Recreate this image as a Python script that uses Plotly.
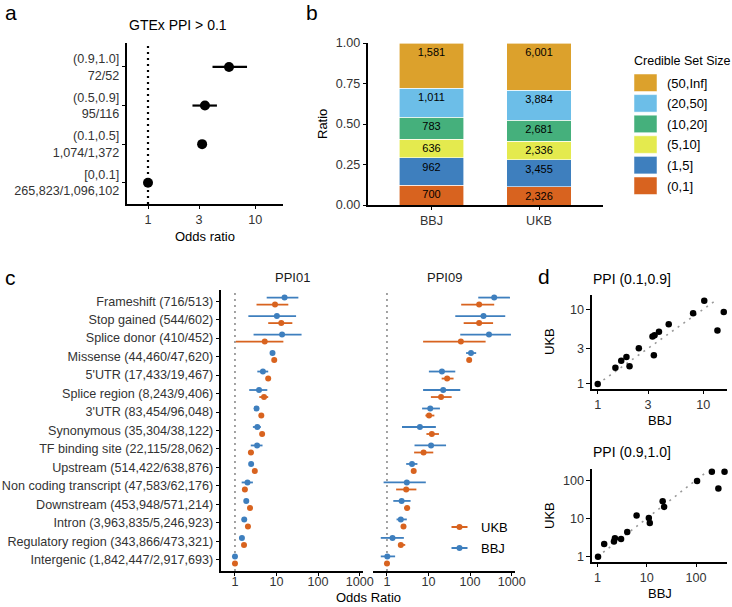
import plotly.graph_objects as go

W, H = 732, 607
def fx(p): return p / W
def fy(p): return 1 - p / H

FONT = "Liberation Sans, Arial, Helvetica, sans-serif"
TXT = "#333333"
BLUE = "#3E7FBE"
ORANGE = "#D8631F"

# ---------------- Panel a data ----------------
a_bins = ["[0,0.1]", "(0.1,0.5]", "(0.5,0.9]", "(0.9,1.0]"]
a_counts = ["265,823/1,096,102", "1,074/1,372", "95/116", "72/52"]
a_or = [1.0, 3.2, 3.4, 5.7]
a_lo = [0.98, 3.0, 2.6, 4.0]
a_hi = [1.02, 3.4, 4.4, 8.4]

# ---------------- Panel b data ----------------
b_cohorts = ["BBJ", "UKB"]
b_sizes = ["(0,1]", "(1,5]", "(5,10]", "(10,20]", "(20,50]", "(50,Inf]"]
b_bbj = [700, 962, 636, 783, 1011, 1581]
b_ukb = [2326, 3455, 2336, 2681, 3884, 6001]
b_colors = ["#D8631F", "#3E7FBE", "#E4EA4E", "#45B07C", "#6CBEE8", "#DCA12C"]

# ---------------- Panel c data ----------------
c_labels = ["Frameshift (716/513)", "Stop gained (544/602)", "Splice donor (410/452)",
            "Missense (44,460/47,620)", "5'UTR (17,433/19,467)", "Splice region (8,243/9,406)",
            "3'UTR (83,454/96,048)", "Synonymous (35,304/38,122)", "TF binding site (22,115/28,062)",
            "Upstream (514,422/638,876)", "Non coding transcript (47,583/62,176)",
            "Downstream (453,948/571,214)", "Intron (3,963,835/5,246,923)",
            "Regulatory region (343,866/473,321)", "Intergenic (1,842,447/2,917,693)"]

ppi01_bbj = [15.6, 10.2, 13.6, 8.0, 4.7, 3.8, 3.3, 3.45, 3.4, 2.45, 2.0, 1.87, 1.67, 1.47, 1.0]
ppi01_bbj_lo = [5.8, 2.1, 2.8, 7.3, 3.45, 2.2, 2.95, 2.7, 2.4, 2.2, 1.45, 1.7, 1.55, 1.35, 0.97]
ppi01_bbj_hi = [33.5, 29.5, 40.0, 8.8, 6.3, 6.0, 3.7, 4.2, 4.6, 2.7, 2.7, 2.05, 1.8, 1.6, 1.03]
ppi01_ukb = [9.2, 13.0, 5.2, 8.8, 6.3, 5.0, 4.3, 4.5, 2.42, 3.0, 1.73, 2.3, 2.05, 1.65, 1.0]
ppi01_ukb_lo = [3.3, 6.3, 1.05, 8.3, 5.6, 3.85, 4.0, 4.2, 2.06, 2.8, 1.55, 2.15, 1.95, 1.52, 0.97]
ppi01_ukb_hi = [19.2, 24.0, 14.6, 9.3, 7.0, 6.3, 4.6, 4.8, 2.8, 3.2, 1.9, 2.45, 2.15, 1.78, 1.03]

ppi09_bbj = [380, 210, 285, 105, 21, 22.5, 11, 6.2, 11.5, 4.0, 3.0, 2.25, 2.15, 1.36, 1.02]
ppi09_bbj_lo = [157, 44, 58, 80, 10.2, 7.4, 7.0, 2.3, 4.6, 2.9, 0.83, 1.42, 1.7, 0.71, 0.71]
ppi09_bbj_hi = [910, 700, 960, 140, 44, 58, 18.8, 15, 26.4, 5.4, 8.6, 3.7, 3.0, 2.55, 1.57]
ppi09_ukb = [165, 165, 60, 95, 28, 20, 10.3, 12, 7.6, 4.4, 2.9, 3.05, 2.5, 2.15, 1.0]
ppi09_ukb_lo = [61, 70, 7.4, 88, 20.7, 11.4, 8.4, 8.9, 4.5, 3.9, 1.66, 2.6, 2.3, 1.9, 0.9]
ppi09_ukb_hi = [380, 357, 236, 105, 40, 36, 13.8, 17.8, 13, 5.0, 5.1, 3.6, 2.8, 2.75, 1.15]

fig = go.Figure()

TICKSIZE = 12.6

def ax(**kw):
    base = dict(showline=True, linecolor="black", linewidth=1.5, ticks="outside",
                ticklen=3.5, tickcolor="black", tickwidth=1.2,
                tickfont=dict(size=TICKSIZE, color=TXT, family=FONT),
                showgrid=False, zeroline=False, fixedrange=True, automargin=False)
    base.update(kw)
    return base

# ---------------- Panel a ----------------
a_pos = list(range(len(a_bins)))
fig.add_trace(go.Scatter(
    x=a_or, y=a_pos, xaxis="x", yaxis="y", mode="markers",
    marker=dict(color="black", size=10),
    error_x=dict(type="data", symmetric=False,
                 array=[h - o for h, o in zip(a_hi, a_or)],
                 arrayminus=[o - l for o, l in zip(a_or, a_lo)],
                 width=0, thickness=2.2, color="black"),
    showlegend=False, hoverinfo="skip"))

# ---------------- Panel b ----------------
tot_bbj = sum(b_bbj)
tot_ukb = sum(b_ukb)
for i, s in enumerate(b_sizes):
    fig.add_trace(go.Bar(
        x=b_cohorts, y=[b_bbj[i] / tot_bbj, b_ukb[i] / tot_ukb],
        xaxis="x2", yaxis="y2", name=s,
        marker=dict(color=b_colors[i], line=dict(color="white", width=0.6)),
        text=[f"{b_bbj[i]:,}", f"{b_ukb[i]:,}"], textposition="inside",
        insidetextanchor="end", textangle=0,
        textfont=dict(size=11, color="black", family=FONT),
        showlegend=False, hoverinfo="skip"))

# ---------------- Panel c ----------------
n = len(c_labels)
c_pos = [n - 1 - i for i in range(n)]
dodge = 0.19
def add_c(xax, vals, lo, hi, color, off):
    fig.add_trace(go.Scatter(
        x=vals, y=[p + off for p in c_pos], xaxis=xax, yaxis="y3", mode="markers",
        marker=dict(color=color, size=6),
        error_x=dict(type="data", symmetric=False,
                     array=[h - v for h, v in zip(hi, vals)],
                     arrayminus=[v - l for v, l in zip(vals, lo)],
                     width=0, thickness=1.8, color=color),
        showlegend=False, hoverinfo="skip"))

add_c("x3", ppi01_ukb, ppi01_ukb_lo, ppi01_ukb_hi, ORANGE, -dodge)
add_c("x3", ppi01_bbj, ppi01_bbj_lo, ppi01_bbj_hi, BLUE, dodge)
add_c("x4", ppi09_ukb, ppi09_ukb_lo, ppi09_ukb_hi, ORANGE, -dodge)
add_c("x4", ppi09_bbj, ppi09_bbj_lo, ppi09_bbj_hi, BLUE, dodge)

# ---------------- Panel d ----------------
for xax, yax, bb, uk in [("x5", "y5", ppi01_bbj, ppi01_ukb), ("x6", "y6", ppi09_bbj, ppi09_ukb)]:
    lo_v = min(uk)
    hi_v = max(uk)
    fig.add_trace(go.Scatter(x=[lo_v, hi_v], y=[lo_v, hi_v], xaxis=xax, yaxis=yax,
                             mode="lines", line=dict(color="#999999", width=1.6, dash="2px,5px"),
                             showlegend=False, hoverinfo="skip"))
    fig.add_trace(go.Scatter(x=bb, y=uk, xaxis=xax, yaxis=yax, mode="markers",
                             marker=dict(color="black", size=6.5),
                             showlegend=False, hoverinfo="skip", cliponaxis=False))

# ---------------- Axes ----------------
layout_axes = dict(
    xaxis=ax(domain=[fx(127), fx(283)], anchor="y", type="log", range=[-0.196, 1.26],
             tickvals=[1, 3, 10], ticktext=["1", "3", "10"]),
    yaxis=ax(domain=[fy(204), fy(43)], anchor="x", range=[-0.55, 3.62],
             tickvals=a_pos, ticktext=[f"{b}<br>{c}" for b, c in zip(a_bins, a_counts)]),
    xaxis2=ax(domain=[fx(368), fx(603)], anchor="y2", type="category", range=[-0.59, 1.595]),
    yaxis2=ax(domain=[fy(205), fy(43)], anchor="x2", range=[0, 1],
              tickvals=[0, 0.25, 0.5, 0.75, 1.0], ticktext=["0.00", "0.25", "0.50", "0.75", "1.00"]),
    xaxis3=ax(domain=[fx(221), fx(363)], anchor="y3", type="log", range=[-0.336, 3.08],
              tickvals=[1, 10, 100, 1000], ticktext=["1", "10", "100", "1000"],
              ticklabelstandoff=-5),
    yaxis3=ax(domain=[fy(571), fy(290)], anchor="x3", range=[-0.6, 14.6],
              tickvals=c_pos, ticktext=c_labels),
    xaxis4=ax(domain=[fx(373), fx(515)], anchor="y3", type="log", range=[-0.336, 3.08],
              tickvals=[1, 10, 100, 1000], ticktext=["1", "10", "100", "1000"],
              ticklabelstandoff=-5),
    xaxis5=ax(domain=[fx(591.7), fx(727)], anchor="y5", type="log", range=[-0.057, 1.224],
              tickvals=[1, 3, 10], ticktext=["1", "3", "10"]),
    yaxis5=ax(domain=[fy(389), fy(295)], anchor="x5", type="log", range=[-0.067, 1.19],
              tickvals=[1, 3, 10], ticktext=["1", "3", "10"]),
    xaxis6=ax(domain=[fx(591.7), fx(727)], anchor="y6", type="log", range=[-0.12, 2.63],
              tickvals=[1, 10, 100], ticktext=["1", "10", "100"]),
    yaxis6=ax(domain=[fy(561.7), fy(469)], anchor="x6", type="log", range=[-0.13, 2.29],
              tickvals=[1, 10, 100], ticktext=["1", "10", "100"]),
)

shapes = []
# reference lines at OR = 1
shapes.append(dict(type="line", xref="x", yref="y domain", x0=1, x1=1, y0=0, y1=1,
                   line=dict(color="black", width=2.2, dash="2px,4px"), layer="below"))
for xr in ["x3", "x4"]:
    shapes.append(dict(type="line", xref=xr, yref="y3 domain", x0=1, x1=1, y0=0, y1=1,
                       line=dict(color="#8C8C8C", width=1.6, dash="2px,4px"), layer="below"))

annotations = []
def ann(text, x, y, size=13, xanchor="center", yanchor="middle", angle=0, color=TXT):
    annotations.append(dict(text=text, x=fx(x), y=fy(y), xref="paper", yref="paper",
                            showarrow=False, xanchor=xanchor, yanchor=yanchor, textangle=angle,
                            font=dict(size=size, color=color, family=FONT)))

# panel letters
ann("a", 3, 13, size=21, xanchor="left", color="black")
ann("b", 304, 13, size=21, xanchor="left", color="black")
ann("c", 3, 278, size=21, xanchor="left", color="black")
ann("d", 536, 276, size=21, xanchor="left", color="black")

# titles / axis titles
ann("GTEx PPI > 0.1", 127, 25, size=14, xanchor="left", color="black")
ann("Odds ratio", 205, 236, color="black")
ann("Ratio", 322, 124, angle=-90, color="black")
ann("PPI01", 292, 277, color="#1a1a1a")
ann("PPI09", 444, 277, color="#1a1a1a")
ann("Odds Ratio", 368, 607, yanchor="bottom", color="black")
ann("PPI (0.1,0.9]", 591, 279, size=14, xanchor="left", color="black")
ann("PPI (0.9,1.0]", 591, 452, size=14, xanchor="left", color="black")
ann("UKB", 549, 342, angle=-90, color="black")
ann("UKB", 549, 516, angle=-90, color="black")
ann("BBJ", 660, 420, color="black")
ann("BBJ", 660, 593, color="black")

# panel b legend (manual)
ann("Credible Set Size", 632, 61, size=12.5, xanchor="left", color="black")
for k, s in enumerate(reversed(b_sizes)):
    col = list(reversed(b_colors))[k]
    y0 = 74 + k * 20.6
    shapes.append(dict(type="rect", xref="paper", yref="paper",
                       x0=fx(634), x1=fx(657), y0=fy(y0 + 17.5), y1=fy(y0),
                       fillcolor=col, line=dict(color="white", width=0.5)))
    ann(s, 665, y0 + 9, xanchor="left", color="black")

# panel c legend (manual)
for k, (nm, col) in enumerate([("UKB", ORANGE), ("BBJ", BLUE)]):
    yy = 527 + k * 21
    shapes.append(dict(type="line", xref="paper", yref="paper",
                       x0=fx(451.5), x1=fx(467.5), y0=fy(yy), y1=fy(yy),
                       line=dict(color=col, width=2)))
    shapes.append(dict(type="circle", xref="paper", yref="paper",
                       x0=fx(456.5), x1=fx(462.5), y0=fy(yy + 3), y1=fy(yy - 3),
                       fillcolor=col, line=dict(color=col, width=0)))
    ann(nm, 479, yy, xanchor="left", color="black")

fig.update_layout(
    width=W, height=H, autosize=False,
    margin=dict(l=0, r=0, t=0, b=0),
    paper_bgcolor="white", plot_bgcolor="rgba(0,0,0,0)",
    barmode="stack", bargap=0.4,
    font=dict(family=FONT, size=13, color=TXT),
    shapes=shapes, annotations=annotations,
    showlegend=False,
    **layout_axes,
)

fig.write_html("out.html", config={"displayModeBar": False},
               post_script="document.body.style.margin='0px';document.body.style.overflow='hidden';")
